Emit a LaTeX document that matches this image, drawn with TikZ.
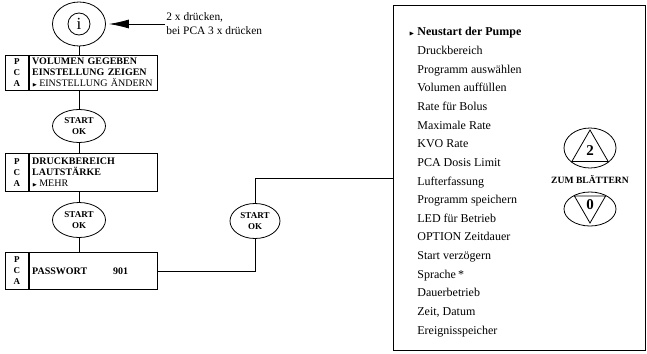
\documentclass[tikz,border=0pt]{standalone}
\usepackage{amssymb}
\usepackage{fontspec}
\setmainfont{Liberation Serif}
\usetikzlibrary{arrows.meta, positioning, shapes.geometric}
\newcommand{\menupointer}{\ensuremath{\scriptscriptstyle\blacktriangleright}}

\begin{document}
\begin{tikzpicture}[x=1pt, y=-1pt, line width=0.8pt,
    oval/.style={draw, ellipse, minimum width=52pt, minimum height=34pt, inner sep=0pt, align=center, font=\fontsize{9}{10.5}\selectfont\bfseries},
    pca/.style={draw, anchor=north west, minimum width=23pt, inner sep=0pt, align=center, font=\fontsize{9}{11}\selectfont\bfseries},
    pcatext/.style={draw, anchor=north west, text width=122pt, inner xsep=3pt, inner ysep=0pt, align=left, font=\fontsize{10}{11}\selectfont},
    item/.style={anchor=base west, inner sep=0pt, font=\fontsize{12}{14}\selectfont},
    triup/.style={draw, regular polygon, regular polygon sides=3, inner sep=0pt, font=\fontsize{15}{15}\selectfont\bfseries}]
      \useasboundingbox (0,0) rectangle (647,353);

      \node[oval, minimum height=44pt, minimum width=53pt] (ibtn) at (79,24) {};
      \node[draw, circle, minimum size=22pt, inner sep=0pt, font=\fontsize{17}{17}\selectfont] (iglyph) at (ibtn) {i};
      \node[anchor=west, align=left, inner sep=0pt, font=\fontsize{11.4}{14}\selectfont] (hint) at (166,24) {2 x drücken,\\bei PCA 3 x drücken};
      \draw[-{Latex[length=20pt, width=9pt]}, shorten <=1pt, shorten >=3pt] (hint.west) -- (ibtn.east);

      \node[pca, minimum height=35pt] (pca1) at (5,55) {P\\C\\A};
      \node[pcatext, minimum height=35pt] (box1) at (pca1.north east) {\textbf{VOLUMEN GEGEBEN}\\\textbf{EINSTELLUNG ZEIGEN}\\\menupointer\,EINSTELLUNG ÄNDERN};
      \node[oval, minimum width=53pt, minimum height=33pt] (start1) at (79,126) {START\\OK};

      \node[pca, minimum height=38pt] (pca2) at (5,153) {P\\C\\A};
      \node[pcatext, minimum height=38pt] (box2) at (pca2.north east) {\textbf{DRUCKBEREICH}\\\textbf{LAUTSTÄRKE}\\\menupointer\,MEHR};
      \node[oval, minimum width=53pt, minimum height=35pt] (start2) at (79,220) {START\\OK};

      \node[pca, minimum height=37pt] (pca3) at (5,252) {P\\C\\A};
      \node[pcatext, minimum height=37pt] (box3) at (pca3.north east) {\textbf{PASSWORT\hspace{26pt}901}};
      \node[oval, minimum width=50pt, minimum height=35pt] (start3) at (255,221) {START\\OK};

      \draw (ibtn.south) -- (ibtn.south |- box1.north);
      \draw (start1.north |- box1.south) -- (start1.north);
      \draw (start1.south) -- (start1.south |- box2.north);
      \draw (start2.north |- box2.south) -- (start2.north);
      \draw (start2.south) -- (start2.south |- box3.north);

      \node[draw, anchor=north west, minimum width=252pt, minimum height=345pt, inner sep=0pt] (menu) at (393,5) {};
      \draw (box3.east) -| (start3.south);
      \draw (start3.north) |- (menu.west);

      \node[item, font=\fontsize{12}{14}\selectfont\bfseries] (item0) at (417,36) {\llap{\menupointer\hspace{3pt}}Neustart der Pumpe};
      \foreach \txt [count=\i] in {Druckbereich, Programm auswählen, Volumen auffüllen, Rate für Bolus, Maximale Rate, KVO Rate, PCA Dosis Limit, Lufterfassung, Programm speichern, LED für Betrieb, OPTION Zeitdauer, Start verzögern, Sprache\,*, Dauerbetrieb, {Zeit, Datum}, Ereignisspeicher}
        \node[item] (item\i) at (417, {36+18.63*\i}) {\txt};

      \node[oval, minimum height=40pt] (upbtn) at (590,148) {};
      \node[triup, minimum size=42pt] (uptri) at (590,151) {2};
      \node[inner sep=0pt, font=\fontsize{9.6}{11}\selectfont\bfseries] (scroll) at (590,180) {ZUM BLÄTTERN};
      \node[oval, minimum height=34pt] (downbtn) at (590,209) {};
      \node[triup, shape border rotate=180, minimum size=36pt] (downtri) at (590,205) {0};
\end{tikzpicture}
\end{document}
